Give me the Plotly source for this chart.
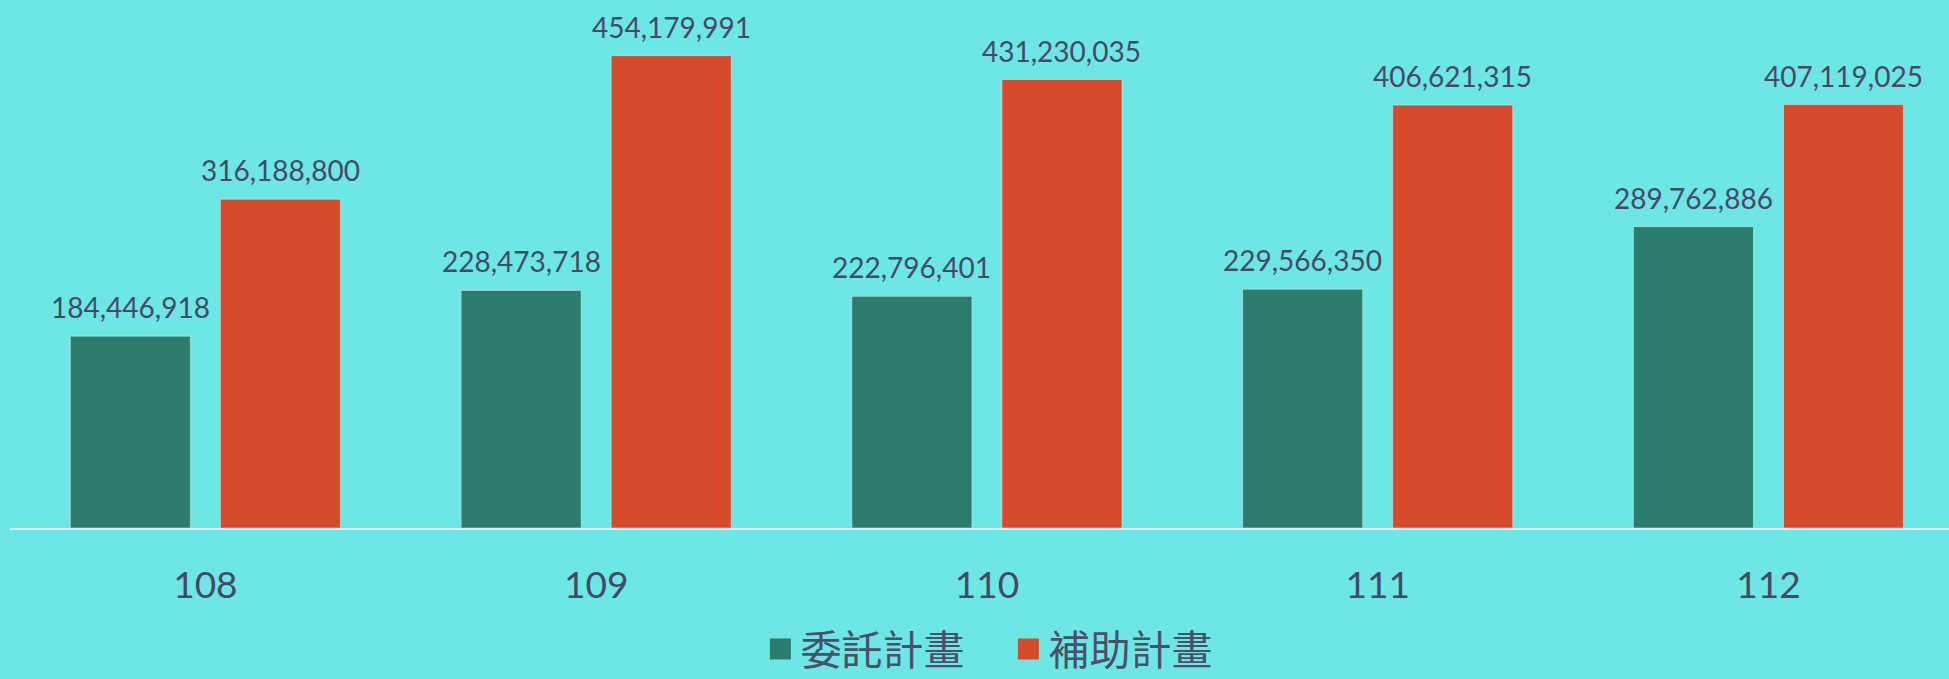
import plotly.graph_objects as go

years = ["108", "109", "110", "111", "112"]
commissioned = [184446918, 228473718, 222796401, 229566350, 289762886]
subsidized = [316188800, 454179991, 431230035, 406621315, 407119025]
series_names = ["委託計畫", "補助計畫"]
colors = ["#2c7d6e", "#d64b2b"]
text_color = "#454a64"
bg = "#6de6e6"

fig = go.Figure()
for name, vals, col in zip(series_names, [commissioned, subsidized], colors):
    fig.add_bar(x=years, y=vals, name=name, marker_color=col, showlegend=False)

# legend entries (larger square swatches)
for name, col in zip(series_names, colors):
    fig.add_scatter(x=[None], y=[None], mode="markers", name=name,
                    marker=dict(symbol="square", size=16, color=col,
                                line=dict(color=col, width=5)))

# data labels above bars (x given as category index)
offsets = [-75, 75]
for vals, off in zip([commissioned, subsidized], offsets):
    for i, v in enumerate(vals):
        fig.add_annotation(x=i, y=v, xref="x", yref="y", text=f"{v:,}",
                           showarrow=False, xshift=off, yshift=10,
                           yanchor="bottom",
                           font=dict(family="Lato", size=28, color=text_color))

fig.update_layout(
    width=1949, height=679,
    margin=dict(l=10, r=0, t=0, b=151, autoexpand=False),
    paper_bgcolor=bg, plot_bgcolor=bg,
    barmode="group", bargap=0.232, bargroupgap=0.2,
    xaxis=dict(type="category", range=[-0.5, 4.462], showline=True,
               linecolor="#e4e6ef", linewidth=2, ticks="outside", ticklen=24,
               tickcolor="rgba(0,0,0,0)", showgrid=False, zeroline=False,
               tickfont=dict(family="Lato", size=37, color=text_color)),
    yaxis=dict(range=[0, 5.077e8], visible=False),
    legend=dict(orientation="h", x=0.387, xanchor="left", y=-0.23,
                yanchor="middle", bgcolor="rgba(0,0,0,0)", entrywidth=203,
                font=dict(family="Noto Sans CJK TC", size=41, color="#4a5068")),
    showlegend=True,
)

fig.write_html(
    "out.html",
    config={"displayModeBar": False},
    post_script="document.body.style.margin='0';"
                "document.body.style.overflow='hidden';"
                "document.body.style.background='#6de6e6';",
)
